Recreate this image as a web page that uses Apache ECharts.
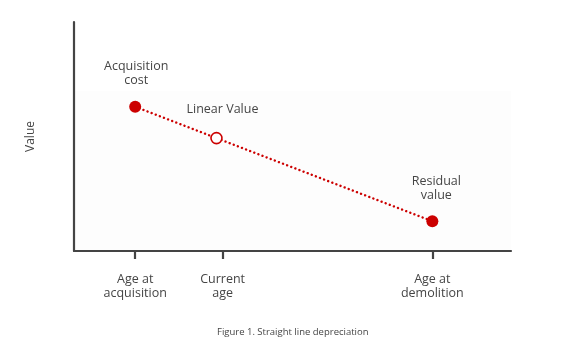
<!DOCTYPE html>
<html>
<head>
<meta charset="utf-8">
<script src="https://cdn.jsdelivr.net/npm/echarts@6/dist/echarts.min.js"></script>
<style>html,body{margin:0;padding:0;background:#fff}#c{width:566px;height:355px}</style>
</head>
<body>
<div id="c"></div>
<script>
// Data
const tickValues = [14, 34, 82];
const tickLabels = ['Age at\nacquisition', 'Current\nage', 'Age at\ndemolition'];
const pointX = [14, 32.6, 82];
const pointY = [63, 49.3, 13];
const pointLabels = ['Acquisition\ncost', 'Linear Value', 'Residual\nvalue'];
const hollow = [false, true, false];
const yAxisName = 'Value';
const captionText = 'Figure 1. Straight line depreciation';

const RED = '#cc0000';
const TXT = '#454545';
const FONT = 'Open Sans';

const labelOffsets = [[1, 0], [6, 0], [4, 0]];
const data = pointX.map((x, i) => ({
  value: [x, pointY[i]],
  itemStyle: hollow[i] ? { color: '#fff', borderColor: RED, borderWidth: 1.6 } : { color: RED },
  symbolSize: hollow[i] ? 11 : 12,
  label: {
    show: true,
    position: 'top',
    distance: hollow[i] ? 15 : 13,
    offset: labelOffsets[i],
    formatter: pointLabels[i],
    color: TXT,
    fontFamily: FONT,
    fontSize: 12.5,
    lineHeight: 14,
    align: 'center'
  }
}));

const chart = echarts.init(document.getElementById('c'), null, { renderer: 'canvas' });
chart.setOption({
  animation: false,
  backgroundColor: '#fff',
  title: {
    text: captionText,
    left: 212,
    top: 322,
    textStyle: { fontFamily: FONT, fontSize: 9.5, fontWeight: 'normal', color: TXT }
  },
  grid: { left: 74, right: 55, top: 22, bottom: 104 },
  xAxis: {
    type: 'value',
    min: 0,
    max: 100,
    z: 10,
    splitLine: { show: false },
    axisLine: { show: true, onZero: false, lineStyle: { color: '#444', width: 2.2 } },
    axisTick: { show: true, customValues: tickValues, length: 8, lineStyle: { color: '#444', width: 2.2 } },
    axisLabel: {
      show: true,
      customValues: tickValues,
      formatter: (v) => tickLabels[tickValues.indexOf(v)] || '',
      color: TXT,
      fontFamily: FONT,
      fontSize: 12.5,
      lineHeight: 14.5,
      margin: 21
    }
  },
  yAxis: {
    type: 'value',
    min: 0,
    max: 100,
    z: 10,
    name: yAxisName,
    nameLocation: 'middle',
    nameGap: 37,
    nameTextStyle: { color: TXT, fontFamily: FONT, fontSize: 12 },
    splitLine: { show: false },
    axisLine: { show: true, lineStyle: { color: '#444', width: 2.2 } },
    axisTick: { show: false },
    axisLabel: { show: false }
  },
  series: [{
    type: 'line',
    data: [],
    z: 0,
    silent: true,
    markArea: {
      silent: true,
      z: 0,
      itemStyle: { color: '#fdfdfd' },
      data: [[{ yAxis: 70, xAxis: 0 }, { yAxis: 0, xAxis: 100 }]]
    }
  }, {
    type: 'line',
    data: data,
    symbol: 'circle',
    z: 5,
    lineStyle: { color: RED, width: 2.4, type: [0.1, 4.3], cap: 'round' }
  }]
});
</script>
</body>
</html>
